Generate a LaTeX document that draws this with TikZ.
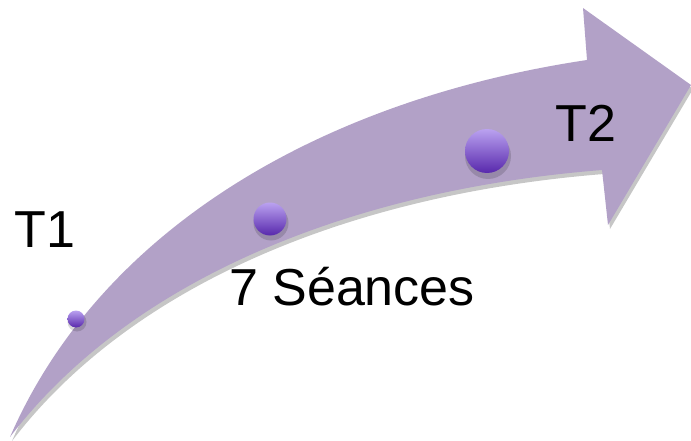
\documentclass[tikz,border=0pt]{standalone}
\usepackage{fontspec}
\setmainfont{Liberation Sans}
\definecolor{lavender}{RGB}{178,161,199}
\definecolor{balltop}{RGB}{186,162,240}
\definecolor{ballbot}{RGB}{88,40,172}
\begin{document}
\begin{tikzpicture}[x=1pt,y=-1pt,
    label text/.style={font=\fontsize{52}{62}\selectfont,anchor=base,inner sep=0pt},
    ball/.style={circle,inner sep=0pt,top color=balltop,bottom color=ballbot,draw=none},
    ball shadow/.style={circle,inner sep=0pt,fill=black,opacity=0.15,draw=none}]

    \useasboundingbox (0,0) rectangle (691,441);

    % arrow outline, drawn twice (shadow and body)
    \def\arrowpath{(10,437) .. controls (100,230) and (320,100) .. (587,60)
        -- (583,8) -- (691,85) -- (608,225) -- (602,170)
        .. controls (350,190) and (130,280) .. (10,437) -- cycle}
    \fill[gray!45,shift={(2,4)}] \arrowpath;
    \fill[lavender] \arrowpath;

    % balls along the arrow
    \node[ball shadow,minimum size=19pt] at (77,322) {};
    \node[ball,minimum size=17pt] (b1) at (76,319) {};
    \node[ball shadow,minimum size=35pt] at (271,223) {};
    \node[ball,minimum size=33pt] (b2) at (270,219) {};
    \node[ball shadow,minimum size=46pt] at (488,156) {};
    \node[ball,minimum size=44pt] (b3) at (487,151) {};

    \node[label text] (t1) at (45,247) {T1};
    \node[label text] (seances) at (352,305) {7 Séances};
    \node[label text] (t2) at (586,142) {T2};
\end{tikzpicture}
\end{document}
